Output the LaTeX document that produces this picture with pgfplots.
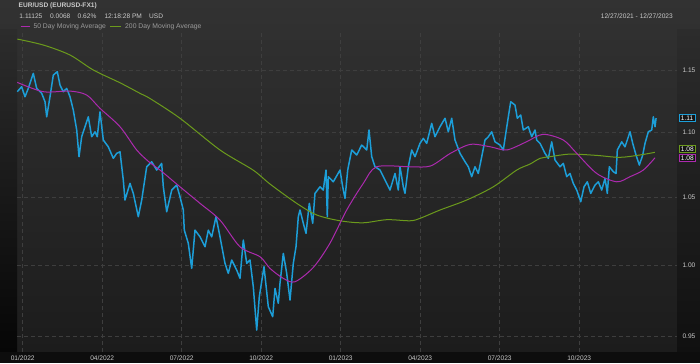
\documentclass[border=0pt]{standalone}
\usepackage{pgfplots}
\pgfplotsset{compat=1.18}
\usepackage{fontspec}
\setmainfont{Liberation Sans}
\definecolor{pxblue}{HTML}{1C9ED8}
\definecolor{pxmag}{HTML}{AC2AAE}
\definecolor{pxgreen}{HTML}{6B9A1C}
\definecolor{txt}{HTML}{CACACA}
\definecolor{ltxt}{HTML}{9C9C9C}
\definecolor{gridc}{HTML}{3E3E3E}
\definecolor{bgtop}{HTML}{323232}
\definecolor{bgbot}{HTML}{1C1C1C}
\definecolor{lftop}{HTML}{2C2C2C}
\definecolor{lfbot}{HTML}{060606}
\definecolor{rttop}{HTML}{2C2C2C}
\definecolor{rtbot}{HTML}{101010}
\begin{document}
\begin{tikzpicture}
% backgrounds
\shade[top color=bgtop, bottom color=bgbot] (0pt,11pt) rectangle (700pt,363pt);
\fill[black!95] (0pt,0pt) rectangle (700pt,11pt);
\shade[top color=lftop, bottom color=lfbot] (0pt,11pt) rectangle (17pt,333pt);
\shade[top color=rttop, bottom color=rtbot] (677pt,11pt) rectangle (700pt,333pt);
% header
\node[anchor=west, inner sep=0pt, text=txt, font=\bfseries\fontsize{6.6}{8}\selectfont] at (18.5pt,357pt) {EUR/USD (EURUSD-FX1)};
\begin{scope}[every node/.style={anchor=west, inner sep=0pt, text=txt, font=\fontsize{6.6}{8}\selectfont}]
\node at (19.3pt,346.5pt) {1.11125};
\node at (50pt,346.5pt) {0.0068};
\node at (77.5pt,346.5pt) {0.62\%};
\node at (104.3pt,346.5pt) {12:18:28 PM};
\node at (149pt,346.5pt) {USD};
\end{scope}
\node[anchor=east, inner sep=0pt, text=txt, font=\fontsize{6.6}{8}\selectfont] at (673pt,347pt) {12/27/2021 - 12/27/2023};
\draw[pxmag, line width=1.4pt] (20.5pt,336.5pt) -- (30pt,336.5pt);
\node[anchor=west, inner sep=0pt, text=ltxt, font=\fontsize{6.8}{8}\selectfont] at (33.3pt,336.5pt) {50 Day Moving Average};
\draw[pxgreen, line width=1.4pt] (110pt,336.5pt) -- (120.5pt,336.5pt);
\node[anchor=west, inner sep=0pt, text=ltxt, font=\fontsize{6.8}{8}\selectfont] at (125pt,336.5pt) {200 Day Moving Average};
\begin{axis}[at={(17pt,11pt)}, anchor=south west, scale only axis, width=660pt, height=322pt,
  xmin=-0.215, xmax=24.69, ymode=log, ymin=0.9395, ymax=1.1838,
  axis line style={draw=none}, tick style={draw=none},
  xtick={0,3,6,9,12,15,18,21},
  xticklabels={01/2022,04/2022,07/2022,10/2022,01/2023,04/2023,07/2023,10/2023},
  ytick={0.95,1,1.05,1.1,1.15}, yticklabels={0.95,1.00,1.05,1.10,1.15},
  yticklabel pos=right,
  grid=major, major grid style={gridc, dash pattern=on 4pt off 3pt, line width=0.6pt},
  ticklabel style={font=\fontsize{6.6}{8}\selectfont, text=txt},
  yticklabel style={anchor=west, xshift=2pt},
  /pgf/number format/assume math mode=true,
  clip=false]
\addplot[pxblue, line width=1.5pt, line join=round] coordinates {
(-0.204,1.1325) (-0.038,1.1366) (0.087,1.1284) (0.211,1.1352) (0.400,1.1475) (0.528,1.1352) (0.717,1.1312) (0.842,1.1244) (0.906,1.1123) (1.030,1.1284) (1.155,1.1461) (1.306,1.1489) (1.408,1.1379) (1.532,1.1325) (1.660,1.1352) (1.785,1.1284) (1.909,1.1177) (2.038,1.1018) (2.125,1.0809) (2.226,1.0965) (2.351,1.1044) (2.475,1.1123) (2.604,1.0965) (2.728,1.1004) (2.815,1.0965) (2.917,1.1163) (3.042,1.0939) (3.230,1.0886) (3.419,1.0796) (3.547,1.0835) (3.672,1.0847) (3.796,1.0629) (3.860,1.0478) (4.049,1.0604) (4.174,1.0528) (4.362,1.0353) (4.491,1.0478) (4.679,1.0731) (4.868,1.0770) (5.057,1.0706) (5.245,1.0757) (5.306,1.0578) (5.434,1.0390) (5.623,1.0553) (5.811,1.0591) (5.936,1.0503) (6.060,1.0403) (6.098,1.0254) (6.249,1.0157) (6.377,0.9976) (6.502,1.0254) (6.691,1.0205) (6.879,1.0132) (7.004,1.0254) (7.132,1.0205) (7.294,1.0353) (7.445,1.0205) (7.634,1.0012) (7.758,0.9941) (7.887,1.0036) (8.075,0.9964) (8.200,0.9905) (8.325,1.0181) (8.453,1.0012) (8.577,1.0036) (8.702,0.9845) (8.830,0.9544) (8.928,0.9775) (9.106,0.9988) (9.268,0.9705) (9.434,0.9636) (9.521,0.9834) (9.645,0.9729) (9.709,0.9869) (9.834,1.0084) (9.962,0.9941) (10.087,0.9752) (10.211,1.0012) (10.313,1.0132) (10.400,1.0353) (10.464,1.0403) (10.589,1.0304) (10.691,1.0230) (10.815,1.0453) (10.943,1.0304) (11.030,1.0528) (11.219,1.0578) (11.343,1.0553) (11.445,1.0706) (11.494,1.0353) (11.532,1.0655) (11.721,1.0616) (11.974,1.0706) (12.075,1.0578) (12.162,1.0490) (12.264,1.0706) (12.415,1.0861) (12.604,1.0822) (12.792,1.0900) (12.981,1.0861) (13.068,1.1018) (13.170,1.0809) (13.294,1.0731) (13.483,1.0706) (13.736,1.0604) (13.860,1.0553) (14.049,1.0680) (14.174,1.0553) (14.238,1.0731) (14.362,1.0578) (14.426,1.0528) (14.551,1.0731) (14.679,1.0861) (14.804,1.0809) (14.992,1.0913) (15.117,1.0952) (15.245,1.0913) (15.434,1.1071) (15.558,1.0965) (15.747,1.1044) (15.936,1.1111) (16.060,1.1004) (16.189,1.1111) (16.313,1.0939) (16.502,1.0835) (16.691,1.0770) (16.815,1.0731) (16.943,1.0655) (17.068,1.0731) (17.192,1.0680) (17.321,1.0809) (17.445,1.0939) (17.570,1.0965) (17.698,1.1004) (17.823,1.0925) (18.011,1.0900) (18.136,1.0861) (18.238,1.1004) (18.325,1.1123) (18.415,1.1244) (18.577,1.1217) (18.664,1.1111) (18.792,1.1137) (18.891,1.1018) (19.079,1.1044) (19.208,1.0965) (19.332,1.1018) (19.396,1.0939) (19.521,1.0913) (19.709,1.0835) (19.834,1.0796) (19.962,1.0925) (20.087,1.0783) (20.275,1.0731) (20.400,1.0757) (20.528,1.0655) (20.653,1.0680) (20.777,1.0604) (20.906,1.0553) (21.057,1.0465) (21.181,1.0578) (21.306,1.0616) (21.434,1.0528) (21.596,1.0591) (21.721,1.0616) (21.849,1.0553) (21.974,1.0642) (22.060,1.0528) (22.136,1.0731) (22.287,1.0693) (22.389,1.0680) (22.438,1.0861) (22.604,1.0925) (22.728,1.0886) (22.917,1.1004) (23.019,1.0913) (23.143,1.0822) (23.268,1.0744) (23.396,1.0822) (23.483,1.0913) (23.608,1.1004) (23.736,1.1018) (23.796,1.1123) (23.860,1.1044) (23.900,1.1113)
};
\addplot[pxgreen, line width=1pt, smooth] coordinates {
(-0.204,1.1761) (0.777,1.1711) (1.785,1.1627) (2.664,1.1503) (3.672,1.1398) (4.426,1.1312) (4.804,1.1270) (5.936,1.1111) (7.445,1.0861) (8.691,1.0706) (9.332,1.0599) (10.340,1.0453) (11.094,1.0366) (11.974,1.0323) (12.842,1.0308) (13.736,1.0331) (14.615,1.0323) (14.992,1.0341) (15.747,1.0403) (16.755,1.0478) (17.758,1.0578) (18.642,1.0706) (19.143,1.0752) (19.521,1.0796) (19.898,1.0809) (20.653,1.0829) (21.660,1.0819) (22.532,1.0804) (23.287,1.0822) (23.853,1.0843)
};
\addplot[pxmag, line width=1pt, smooth] coordinates {
(-0.204,1.1401) (0.777,1.1325) (1.785,1.1330) (2.415,1.1298) (2.917,1.1191) (3.672,1.1044) (4.302,1.0861) (4.804,1.0762) (5.181,1.0706) (5.936,1.0578) (6.691,1.0453) (7.445,1.0328) (8.200,1.0132) (8.955,1.0060) (9.332,0.9976) (9.834,0.9905) (10.275,0.9881) (10.966,0.9983) (11.592,1.0157) (12.226,1.0403) (12.853,1.0604) (13.358,1.0731) (14.615,1.0731) (15.385,1.0737) (16.140,1.0835) (16.894,1.0905) (17.649,1.0886) (18.264,1.0861) (19.008,1.0925) (19.634,1.0984) (20.400,1.0939) (20.906,1.0835) (21.660,1.0680) (22.415,1.0616) (22.917,1.0655) (23.419,1.0706) (23.860,1.0801)
};
\begin{scope}[every node/.style={anchor=west, inner xsep=2pt, inner ysep=1pt, fill=black!92, line width=0.8pt, font=\fontsize{6.6}{7}\selectfont, xshift=1.5pt}]
\node[draw=pxblue, text=white] at (axis cs:24.69,1.1113) {1.11};
\node[draw=pxgreen, text=white] at (axis cs:24.69,1.0868) {1.08};
\node[draw=pxmag, text=white] at (axis cs:24.69,1.0799) {1.08};
\end{scope}
\end{axis}
\end{tikzpicture}
\end{document}
